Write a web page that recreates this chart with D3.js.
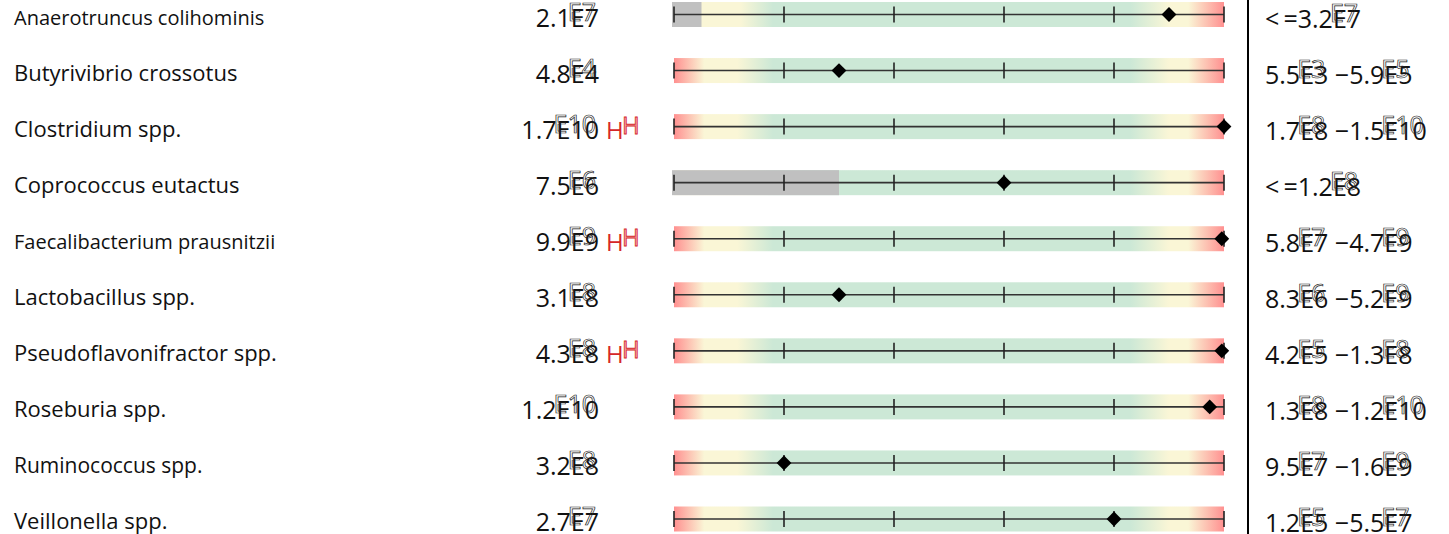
<!DOCTYPE html>
<html>
<head>
<meta charset="utf-8">
<script src="https://cdn.jsdelivr.net/npm/d3@7"></script>
<style>
  body { margin: 0; background: #fff; }
  text { font-family: "Open Sans", sans-serif; }
</style>
</head>
<body>
<div id="chart"></div>
<script>
// bacteria and their measured values
var taxa = ["Anaerotruncus colihominis", "Butyrivibrio crossotus", "Clostridium spp.",
  "Coprococcus eutactus", "Faecalibacterium prausnitzii", "Lactobacillus spp.",
  "Pseudoflavonifractor spp.", "Roseburia spp.", "Ruminococcus spp.", "Veillonella spp."];
var measured = ["2.1E7", "4.8E4", "1.7E10", "7.5E6", "9.9E9", "3.1E8", "4.3E8", "1.2E10", "3.2E8", "2.7E7"];
var flags = ["", "", "H", "", "H", "", "H", "", "", ""];
var refType = ["upper", "range", "range", "upper", "range", "range", "range", "range", "range", "range"];
var refLow = ["", "5.5E3", "1.7E8", "", "5.8E7", "8.3E6", "4.2E5", "1.3E8", "9.5E7", "1.2E5"];
var refHigh = ["3.2E7", "5.9E5", "1.5E10", "1.2E8", "4.7E9", "5.2E9", "1.3E8", "1.2E10", "1.6E9", "5.5E7"];
// marker position and grey (no lower limit) part, in scale units 0..5
var markerPos = [4.5, 1.5, 5.0, 3.0, 4.98, 1.5, 4.98, 4.87, 1.0, 4.0];
var greyEnd = [0.25, 0, 0, 1.5, 0, 0, 0, 0, 0, 0];
var scaleTicks = [0, 1, 2, 3, 4, 5];

var labelSize = [20, 22, 22, 22, 20, 22, 22, 22, 21, 22];

var width = 1449, height = 534;
var svg = d3.select("#chart").append("svg")
  .attr("width", width)
  .attr("height", height);

var x = d3.scaleLinear().domain([0, 5]).range([674, 1224]);
var y = d3.scalePoint().domain(taxa).range([14.5, 519]);
var barH = 25;

var defs = svg.append("defs");
function grad(id, stops) {
  var lg = defs.append("linearGradient").attr("id", id)
    .attr("x1", "0%").attr("x2", "100%").attr("y1", "0%").attr("y2", "0%");
  stops.forEach(function(s) {
    lg.append("stop").attr("offset", s[0]).attr("stop-color", s[1]);
  });
}
var red = "#ff9090", yel = "#faf6d6", grn = "#cce8d6";
grad("g-range", [[0, red], [0.055, yel], [0.115, yel], [0.18, grn], [0.83, grn], [0.9, yel], [0.935, yel], [1, red]]);
grad("g-upper", [[0, yel], [0.12, yel], [0.18, grn], [0.83, grn], [0.9, yel], [0.935, yel], [1, red]]);

// text with the exponent drawn twice, the second copy hollow and shifted
function sciText(g, tx, ty, str, size, anchor) {
  var t = g.append("text")
    .attr("x", tx).attr("y", ty)
    .attr("text-anchor", anchor)
    .style("font-size", size + "px")
    .attr("fill", "#111")
    .text(str);
  var re = /E\d+/g, m;
  while ((m = re.exec(str)) !== null) {
    var p = t.node().getStartPositionOfChar(m.index);
    g.append("text")
      .attr("x", p.x - 3).attr("y", ty - 6)
      .style("font-size", size + "px")
      .attr("fill", "none")
      .attr("stroke", "#222")
      .attr("stroke-width", 0.7)
      .text(m[0]);
  }
  return t;
}

var rows = svg.selectAll("g.row")
  .data(taxa)
  .enter().append("g")
  .attr("class", "row");

rows.each(function(name, i) {
  var g = d3.select(this);
  var cy = y(name);

  g.append("text")
    .attr("x", 14).attr("y", cy + 10)
    .style("font-size", labelSize[i] + "px")
    .attr("fill", "#111")
    .text(name);

  sciText(g, 599, cy + 12, measured[i], 25, "end");

  if (flags[i]) {
    g.append("text")
      .attr("x", 606).attr("y", cy + 12)
      .style("font-size", "24px")
      .attr("fill", "#d62728")
      .text(flags[i]);
    g.append("text")
      .attr("x", 622).attr("y", cy + 7)
      .style("font-size", "24px")
      .attr("fill", "#f4a6a6")
      .attr("stroke", "#d62728")
      .attr("stroke-width", 0.8)
      .text(flags[i]);
  }

  g.append("rect")
    .attr("x", x(0)).attr("y", cy - barH / 2)
    .attr("width", x(5) - x(0)).attr("height", barH)
    .attr("fill", refType[i] === "upper" ? "url(#g-upper)" : "url(#g-range)");

  if (greyEnd[i] > 0) {
    g.append("rect")
      .attr("x", x(0) - 2).attr("y", cy - barH / 2)
      .attr("width", x(greyEnd[i]) - x(0) + 2).attr("height", barH)
      .attr("fill", "#c0c0c0");
  }

  g.append("line")
    .attr("x1", x(0)).attr("x2", x(5))
    .attr("y1", cy).attr("y2", cy)
    .attr("stroke", "#333").attr("stroke-width", 1.6);

  g.selectAll("line.tick")
    .data(scaleTicks)
    .enter().append("line")
    .attr("class", "tick")
    .attr("x1", function(d) { return x(d); })
    .attr("x2", function(d) { return x(d); })
    .attr("y1", cy - 8).attr("y2", cy + 8)
    .attr("stroke", "#222").attr("stroke-width", 1.6);

  g.append("path")
    .attr("d", d3.symbol().type(d3.symbolSquare).size(110)())
    .attr("transform", "translate(" + x(markerPos[i]) + "," + cy + ") rotate(45)")
    .attr("fill", "#000");

  var ref = refType[i] === "upper" ? "<\u2009=" + refHigh[i] : refLow[i] + " \u2212" + refHigh[i];
  sciText(g, 1265, cy + 13, ref, 25, "start");
});

svg.append("line")
  .attr("x1", 1248).attr("x2", 1248)
  .attr("y1", 0).attr("y2", height)
  .attr("stroke", "#000").attr("stroke-width", 2);
</script>
</body>
</html>
